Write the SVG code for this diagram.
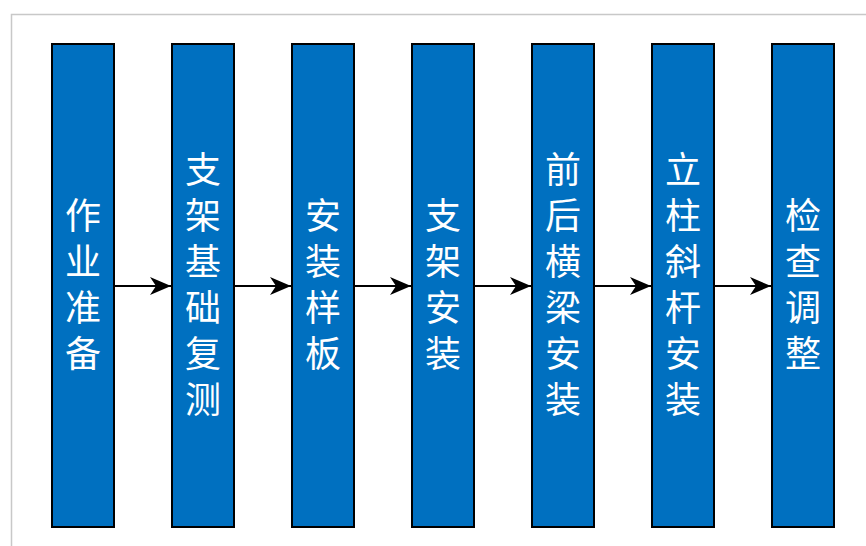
<svg xmlns="http://www.w3.org/2000/svg" width="866" height="546" viewBox="0 0 866 546">
<style>
.box{fill:#0070C0;stroke:#000;stroke-width:2}
.lbl{fill:#fff;font-family:"Noto Sans CJK SC","Noto Sans",sans-serif;font-size:36px;text-anchor:middle;writing-mode:vertical-rl;letter-spacing:10px}
.con{stroke:#000;stroke-width:2;fill:none;marker-end:url(#ah)}
</style>
<defs>
<marker id="ah" markerUnits="userSpaceOnUse" markerWidth="22" markerHeight="20" refX="21" refY="10" orient="auto">
<path d="M0,1 L21,10 L0,19 L6,10 Z" fill="#000"/>
</marker>
</defs>
<rect width="866" height="546" fill="#fff"/>
<rect x="11.5" y="14.5" width="900" height="600" fill="none" stroke="#c8c8c8" stroke-width="1.5"/>
<g id="connectors">
<line class="con" x1="114" y1="286" x2="171" y2="286"/>
<line class="con" x1="234" y1="286" x2="291" y2="286"/>
<line class="con" x1="354" y1="286" x2="411" y2="286"/>
<line class="con" x1="474" y1="286" x2="531" y2="286"/>
<line class="con" x1="594" y1="286" x2="651" y2="286"/>
<line class="con" x1="714" y1="286" x2="771" y2="286"/>
</g>
<g id="n1"><rect class="box" x="52" y="44" width="62" height="483"/>
<text class="lbl" x="83" y="289">作业准备</text></g>
<g id="n2"><rect class="box" x="172" y="44" width="62" height="483"/>
<text class="lbl" x="203" y="289">支架基础复测</text></g>
<g id="n3"><rect class="box" x="292" y="44" width="62" height="483"/>
<text class="lbl" x="323" y="289">安装样板</text></g>
<g id="n4"><rect class="box" x="412" y="44" width="62" height="483"/>
<text class="lbl" x="443" y="289">支架安装</text></g>
<g id="n5"><rect class="box" x="532" y="44" width="62" height="483"/>
<text class="lbl" x="563" y="289">前后横梁安装</text></g>
<g id="n6"><rect class="box" x="652" y="44" width="62" height="483"/>
<text class="lbl" x="683" y="289">立柱斜杆安装</text></g>
<g id="n7"><rect class="box" x="772" y="44" width="62" height="483"/>
<text class="lbl" x="803" y="289">检查调整</text></g>
</svg>
